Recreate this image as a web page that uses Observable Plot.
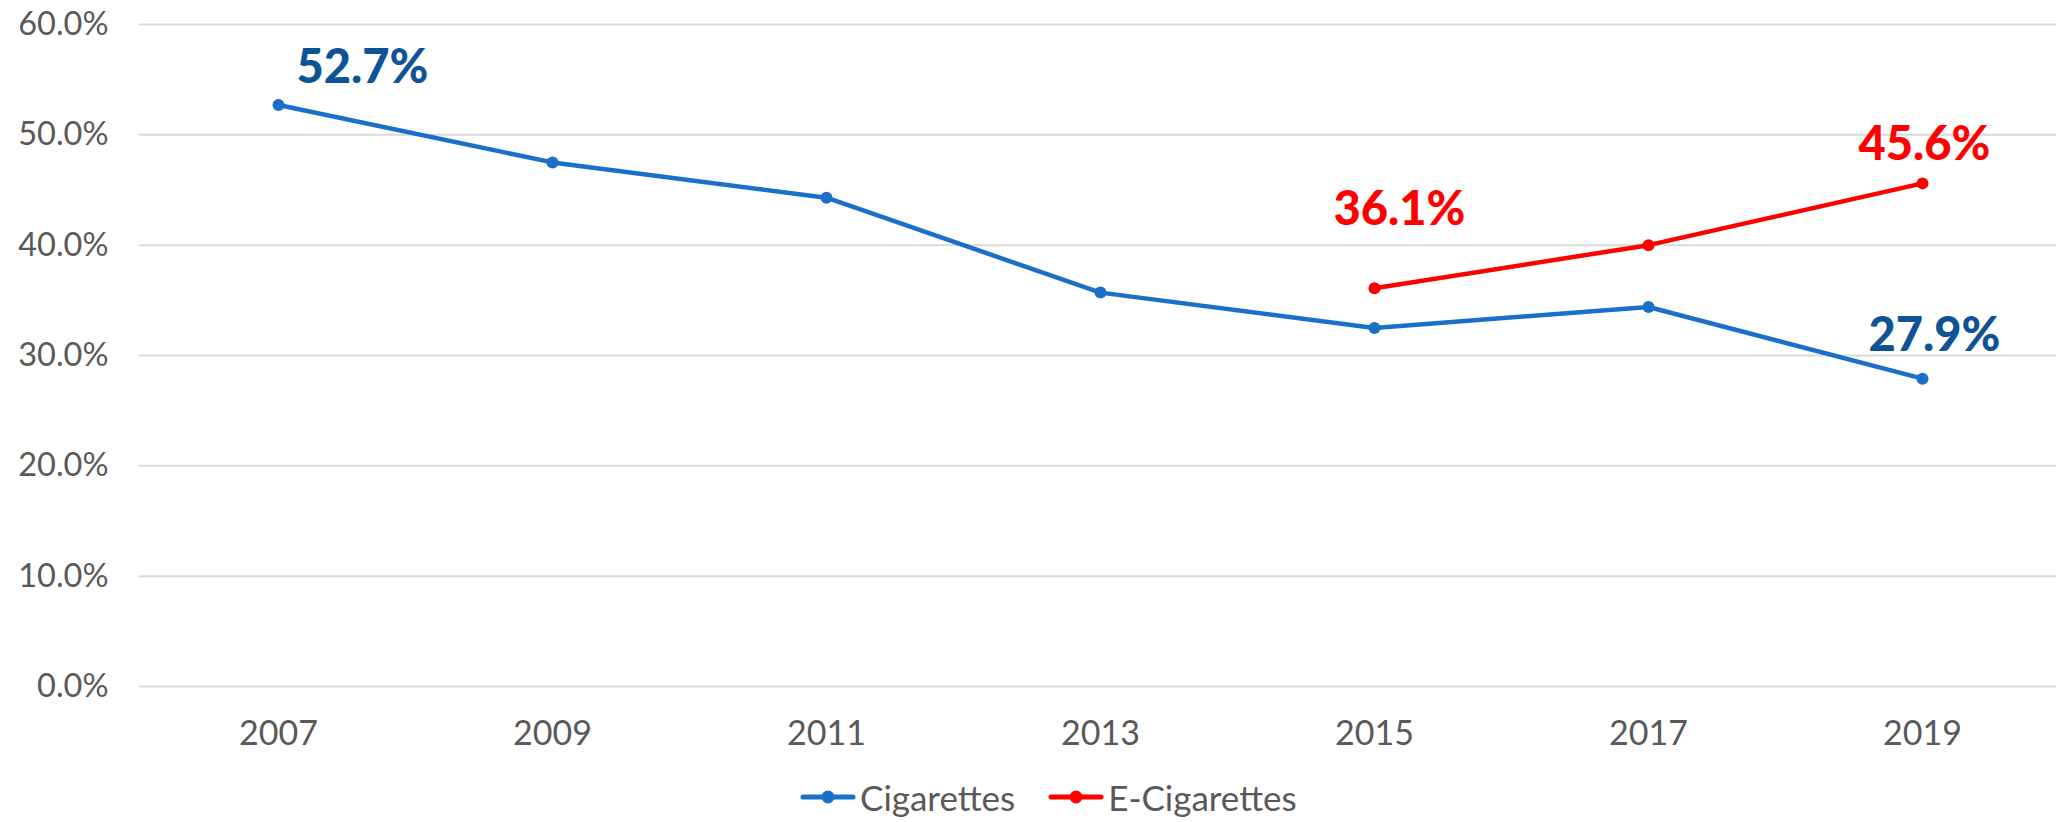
<!DOCTYPE html>
<html>
<head>
<meta charset="utf-8">
<script src="https://cdn.jsdelivr.net/npm/d3@7"></script>
<script src="https://cdn.jsdelivr.net/npm/@observablehq/plot@0.6"></script>
<style>
  html, body { margin: 0; padding: 0; background: #fff; }
  body { width: 2061px; height: 822px; overflow: hidden; font-family: Lato, "Open Sans", sans-serif; }
  #chart svg { display: block; }
  #legend { position: absolute; top: 772px; left: 0; width: 2061px; height: 50px;
            display: flex; align-items: center; padding-left: 800px; box-sizing: border-box;
            font-size: 35px; color: #595959; }
  .item { display: flex; align-items: center; margin-right: 33px; }
  .item svg { margin-right: 4px; }
</style>
</head>
<body>
<div id="chart"></div>
<div id="legend"></div>
<script>
const years = ["2007", "2009", "2011", "2013", "2015", "2017", "2019"];
const cigarettes = [0.527, 0.475, 0.443, 0.357, 0.325, 0.344, 0.279];
const eCigYears = ["2015", "2017", "2019"];
const eCigarettes = [0.361, 0.400, 0.456];
const yTicks = [0, 0.1, 0.2, 0.3, 0.4, 0.5, 0.6];
const seriesNames = ["Cigarettes", "E-Cigarettes"];
const lineColors = ["#1A70C8", "#FF0000"];
const labelColors = ["#0F5296", "#FF0000"];

const cig = years.map((y, i) => ({year: y, value: cigarettes[i]}));
const ecig = eCigYears.map((y, i) => ({year: y, value: eCigarettes[i]}));
const pct = v => (v * 100).toFixed(1) + "%";
const labelFont = {fontWeight: "900", fontSize: 47, fontFamily: "Lato, sans-serif"};

const chart = Plot.plot({
  width: 2061,
  height: 772,
  marginLeft: 139,
  marginRight: 5,
  marginTop: 24,
  marginBottom: 86,
  style: {fontFamily: "Lato, 'Open Sans', sans-serif", color: "#595959", background: "#fff"},
  x: {type: "point", domain: years, padding: 0.5, insetRight: -5},
  y: {domain: [0, 0.6]},
  marks: [
    Plot.ruleY(yTicks, {stroke: "#D9D9D9", strokeWidth: 2}),
    Plot.axisY({ticks: yTicks, tickFormat: pct, tickSize: 0, tickPadding: 31, fontSize: 32.5, fill: "#595959", label: null}),
    Plot.axisX({tickSize: 0, tickPadding: 34, fontSize: 34, fill: "#595959", label: null}),
    Plot.line(cig, {x: "year", y: "value", stroke: lineColors[0], strokeWidth: 4.5}),
    Plot.dot(cig, {x: "year", y: "value", r: 6, fill: lineColors[0]}),
    Plot.line(ecig, {x: "year", y: "value", stroke: lineColors[1], strokeWidth: 4.5}),
    Plot.dot(ecig, {x: "year", y: "value", r: 6, fill: lineColors[1]}),
    Plot.text([cig[0]], {x: "year", y: "value", text: d => pct(d.value), dx: 84, dy: -37, fill: labelColors[0], ...labelFont}),
    Plot.text([cig[6]], {x: "year", y: "value", text: d => pct(d.value), dx: 12, dy: -43, fill: labelColors[0], ...labelFont}),
    Plot.text([ecig[0]], {x: "year", y: "value", text: d => pct(d.value), dx: 25, dy: -78, fill: labelColors[1], ...labelFont}),
    Plot.text([ecig[2]], {x: "year", y: "value", text: d => pct(d.value), dx: 2, dy: -38, fill: labelColors[1], ...labelFont})
  ]
});
document.getElementById("chart").appendChild(chart);

const legend = document.getElementById("legend");
seriesNames.forEach((name, i) => {
  const item = document.createElement("div");
  item.className = "item";
  item.innerHTML = `<svg width="56" height="20"><line x1="3" y1="10" x2="53" y2="10" stroke="${lineColors[i]}" stroke-width="5" stroke-linecap="round"/><circle cx="28" cy="10" r="6.5" fill="${lineColors[i]}"/></svg><span>${name}</span>`;
  legend.appendChild(item);
});
</script>
</body>
</html>
